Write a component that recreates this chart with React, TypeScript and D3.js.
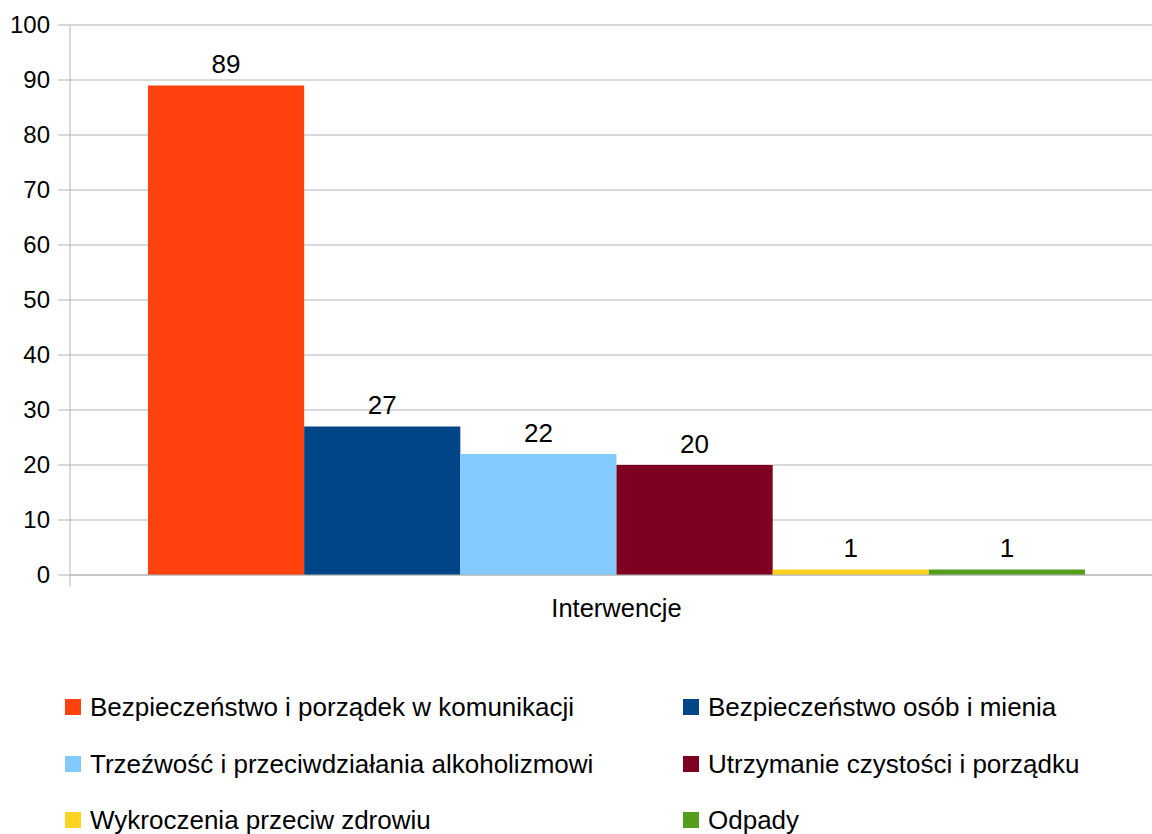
import React from "react";
import * as d3 from "d3";

const categories = ["Interwencje"];
const seriesNames = [
  "Bezpieczeństwo i porządek w komunikacji",
  "Bezpieczeństwo osób i mienia",
  "Trzeźwość i przeciwdziałania alkoholizmowi",
  "Utrzymanie czystości i porządku",
  "Wykroczenia przeciw zdrowiu",
  "Odpady",
];
const seriesValues = [89, 27, 22, 20, 1, 1];
const seriesColors = ["#ff420e", "#004586", "#83caff", "#7e0021", "#ffd320", "#579d1c"];
const yTicks = [0, 10, 20, 30, 40, 50, 60, 70, 80, 90, 100];

const W = 1152;
const H = 834;
const FONT = "'Liberation Sans', Arial, sans-serif";

export default function App() {
  const left = 70;
  const right = 1163;
  const top = 25;
  const bottom = 575;

  const y = d3.scaleLinear().domain([0, 100]).range([bottom, top]);
  const x0 = d3.scaleBand().domain(categories).range([left, right]).paddingInner(0).paddingOuter(0.0832);
  const x1 = d3.scaleBand().domain(seriesNames).range([0, x0.bandwidth()]).padding(0);

  const legendCols = [65, 683];
  const legendRows = [707, 764, 820];

  return (
    <svg width={W} height={H} style={{ position: "absolute", left: 0, top: 0, background: "#fff" }} fontFamily={FONT}>
      {yTicks.map((t) => (
        <g key={t}>
          <line x1={58} x2={W} y1={y(t)} y2={y(t)} stroke="#b3b3b3" strokeWidth={1} />
          <text x={50} y={y(t)} dy="0.35em" textAnchor="end" fontSize={24} fill="#000">
            {t}
          </text>
        </g>
      ))}
      <line x1={left} x2={left} y1={top} y2={bottom + 11} stroke="#b3b3b3" strokeWidth={1} />
      {categories.map((c) => (
        <g key={c} transform={`translate(${x0(c)},0)`}>
          {seriesNames.map((s, i) => (
            <g key={s}>
              <rect
                x={x1(s)}
                y={y(seriesValues[i])}
                width={x1.bandwidth()}
                height={y(0) - y(seriesValues[i])}
                fill={seriesColors[i]}
              />
              <text
                x={(x1(s) as number) + x1.bandwidth() / 2}
                y={y(seriesValues[i]) - 12.5}
                textAnchor="middle"
                fontSize={26}
                fill="#000"
              >
                {seriesValues[i]}
              </text>
            </g>
          ))}
          <text x={x0.bandwidth() / 2} y={617} textAnchor="middle" fontSize={25.5} fill="#000">
            {c}
          </text>
        </g>
      ))}
      <line x1={left} x2={W} y1={bottom} y2={bottom} stroke="#b3b3b3" strokeWidth={1} />
      {seriesNames.map((s, i) => {
        const cx = legendCols[i % 2];
        const cy = legendRows[Math.floor(i / 2)];
        return (
          <g key={s}>
            <rect x={cx} y={cy - 8} width={16} height={16} fill={seriesColors[i]} />
            <text x={cx + 25} y={cy} dy="0.35em" fontSize={26} fill="#000">
              {s}
            </text>
          </g>
        );
      })}
    </svg>
  );
}
